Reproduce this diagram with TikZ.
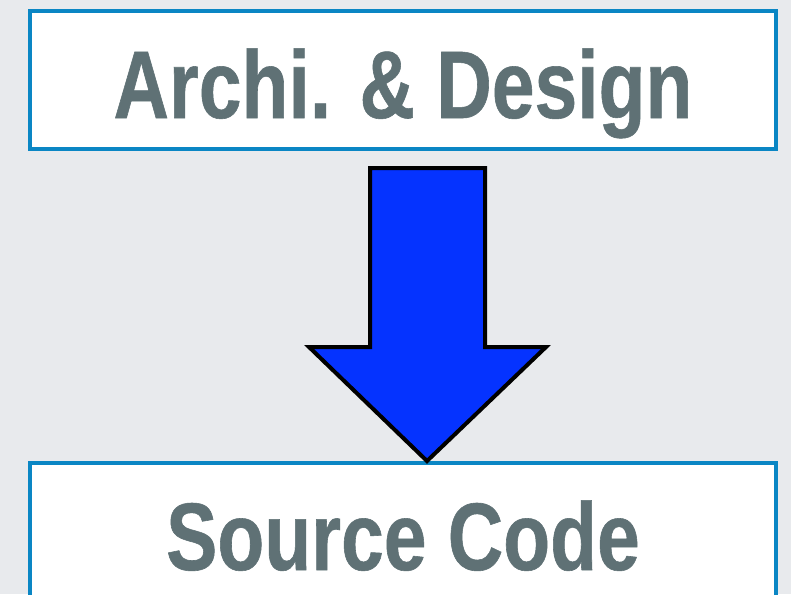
\documentclass[tikz,border=0pt]{standalone}
\usepackage{fontspec}
\newfontfamily\slidefont{Liberation Sans}[FakeStretch=0.8,FakeBold=0.6]
\definecolor{slidebg}{RGB}{232,234,237}
\definecolor{boxblue}{RGB}{10,134,196}
\definecolor{textgray}{RGB}{95,113,117}
\definecolor{arrowblue}{RGB}{5,51,255}
\begin{document}
\begin{tikzpicture}[
    x=1pt, y=-1pt,
    stage/.style={rectangle,draw=boxblue,fill=white,line width=4.5pt,
        minimum width=746pt,minimum height=138pt,inner sep=0pt,
        text height=80pt,text depth=4pt,text=textgray,
        font=\slidefont\bfseries\fontsize{96}{100}\selectfont},
    bigarrow/.style={draw=black,fill=arrowblue,line width=4pt,line join=miter}
]

\fill[slidebg] (0,0) rectangle (791,594);
\useasboundingbox (0,0) rectangle (791,594);
\clip (0,0) rectangle (791,594);

\node[stage] (design) at (403,80) {Archi. \& Design};
\node[stage] (code) at (403,532) {Source Code};

\draw[bigarrow] (370,168) -- (485,168) -- (485,347) -- (546,347)
    -- (427,461) -- (309,347) -- (370,347) -- cycle;

\end{tikzpicture}
\end{document}
